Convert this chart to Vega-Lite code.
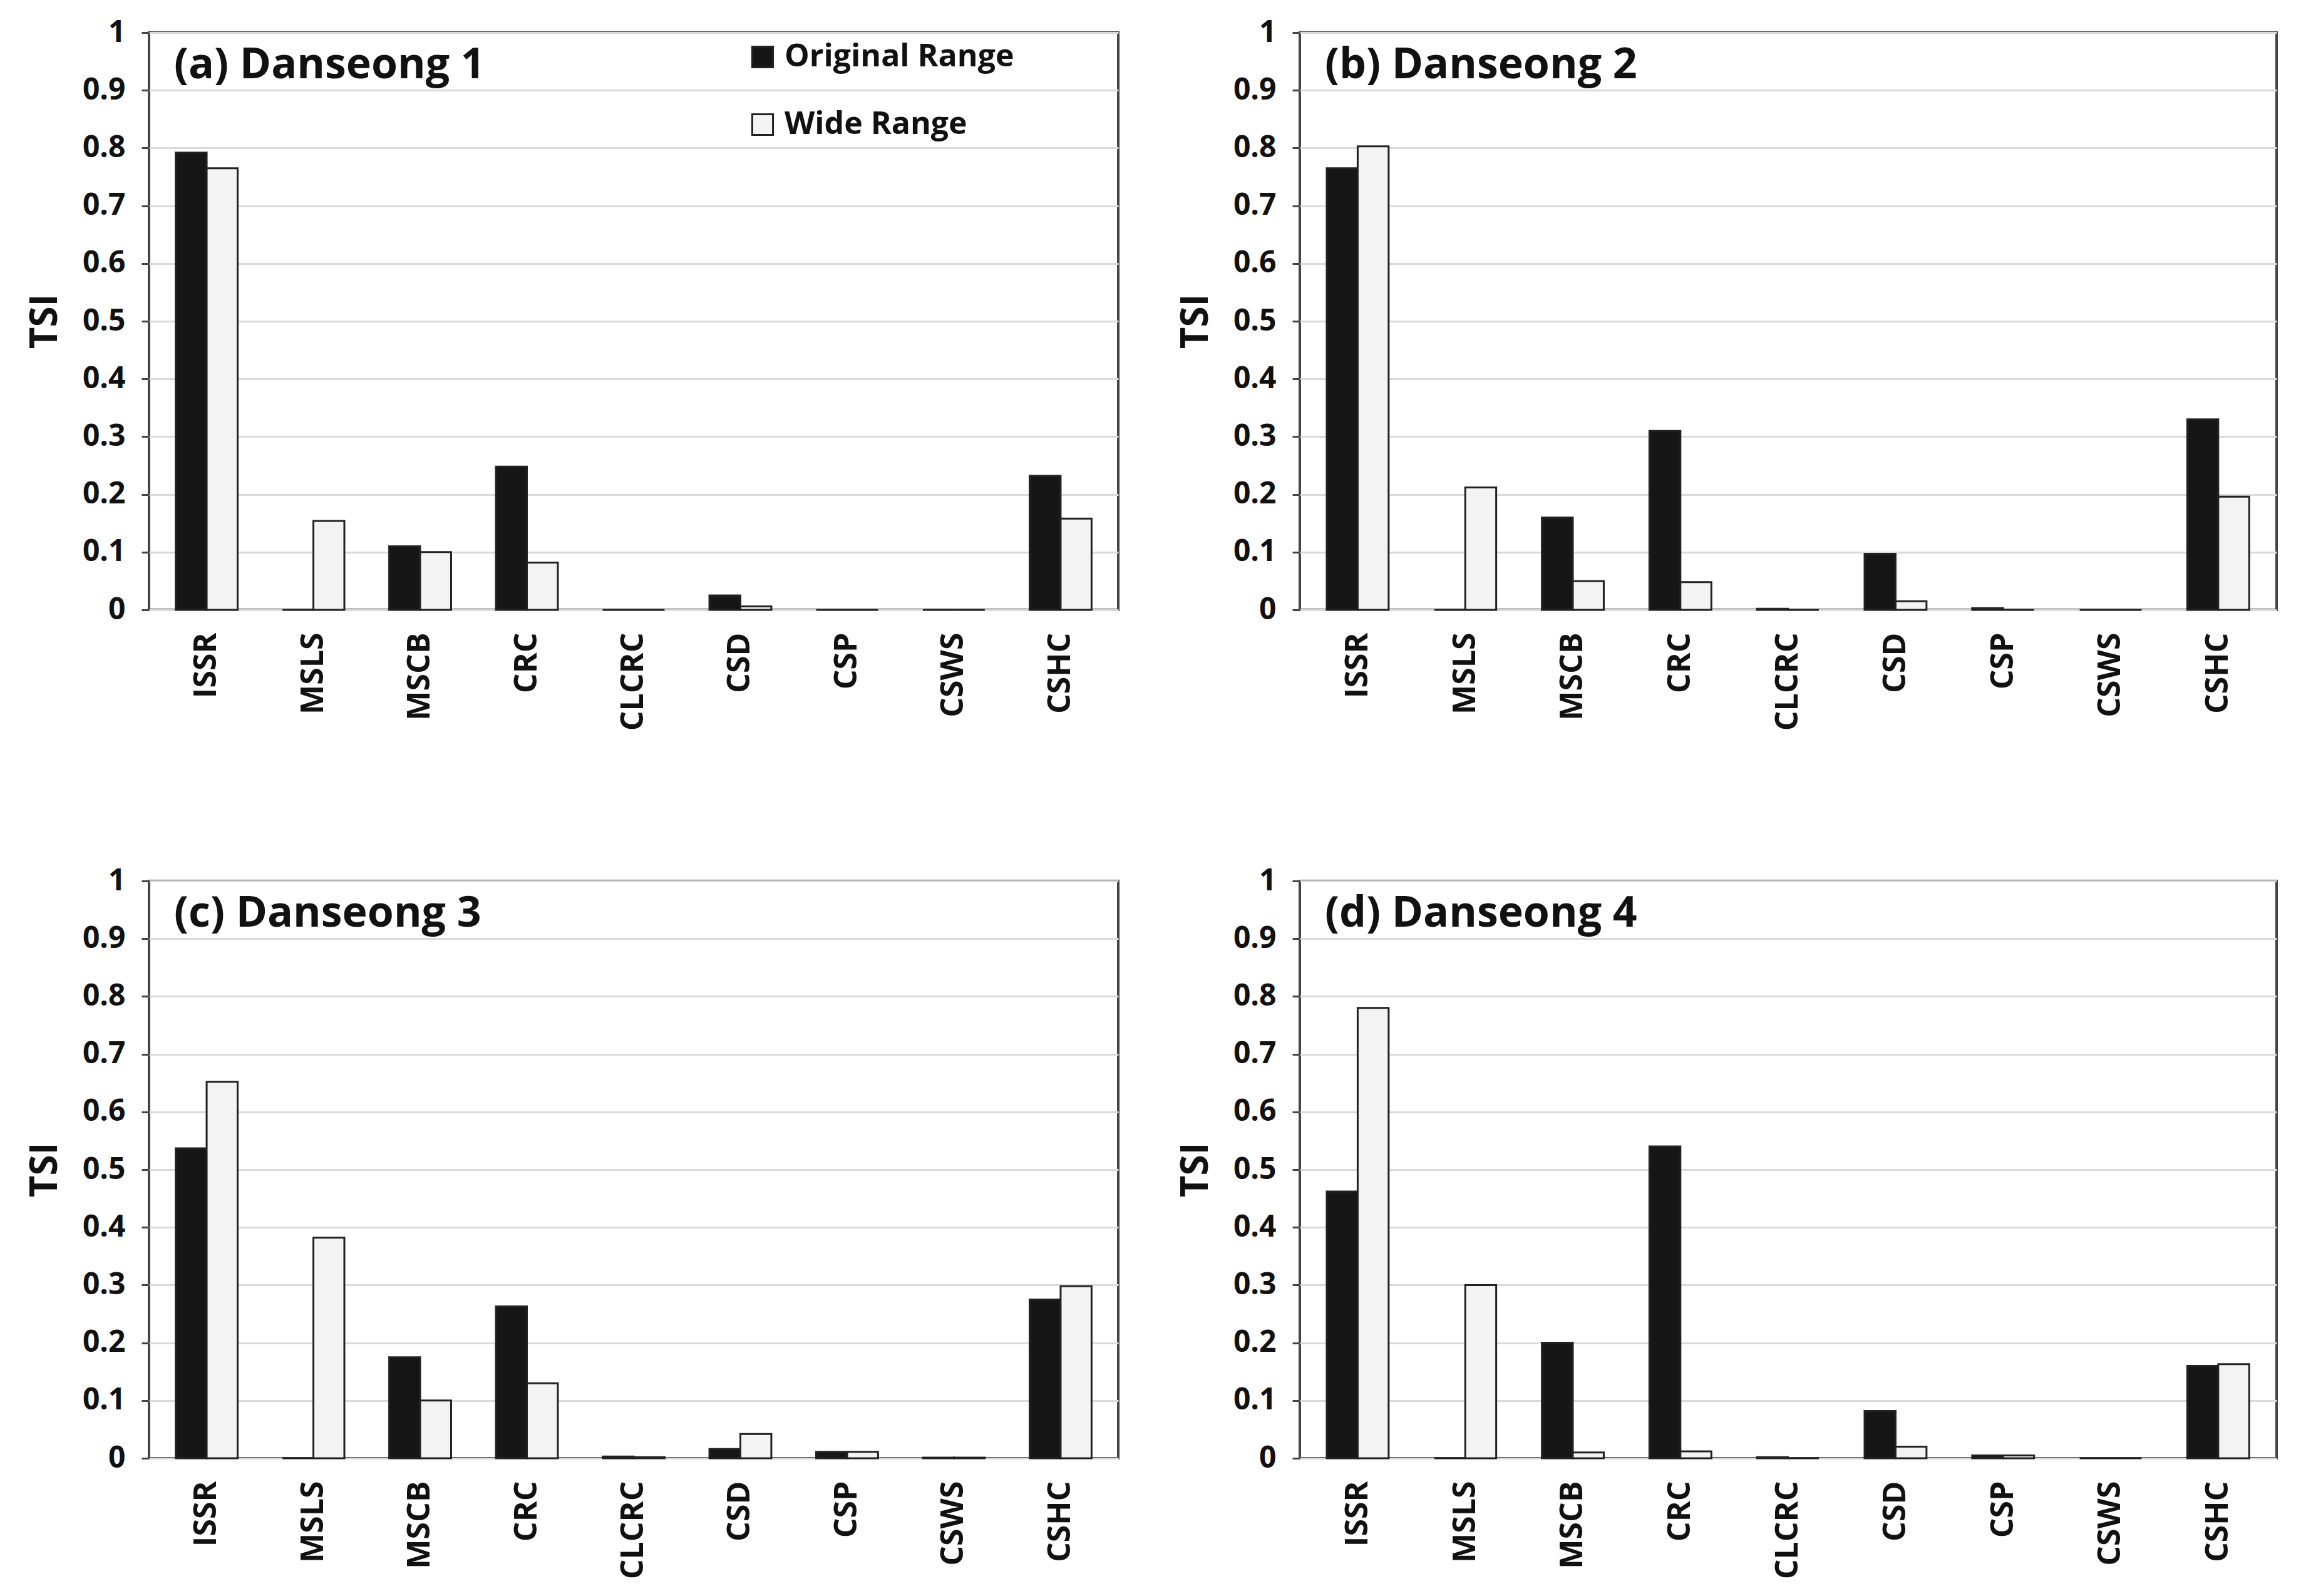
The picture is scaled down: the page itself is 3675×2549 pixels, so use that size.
{
  "$schema": "https://vega.github.io/schema/vega-lite/v6.json",
  "background": "white",
  "padding": {"left": 40, "top": 26, "right": 10, "bottom": 10},
  "config": {
    "font": "Open Sans",
    "view": {"stroke": "#444", "strokeWidth": 4},
    "axis": {
      "labelFont": "Open Sans",
      "labelFontWeight": "bold",
      "labelColor": "#111",
      "titleFont": "Open Sans",
      "titleColor": "#111",
      "titleFontWeight": "bold"
    },
    "title": {"font": "Open Sans", "color": "#111"}
  },
  "data": {
    "values": [
      {"panel": "a", "param": "ISSR", "range": "Original Range", "value": 0.792},
      {"panel": "a", "param": "ISSR", "range": "Wide Range", "value": 0.765},
      {"panel": "a", "param": "MSLS", "range": "Original Range", "value": 0},
      {"panel": "a", "param": "MSLS", "range": "Wide Range", "value": 0.154},
      {"panel": "a", "param": "MSCB", "range": "Original Range", "value": 0.11},
      {"panel": "a", "param": "MSCB", "range": "Wide Range", "value": 0.1},
      {"panel": "a", "param": "CRC", "range": "Original Range", "value": 0.248},
      {"panel": "a", "param": "CRC", "range": "Wide Range", "value": 0.082},
      {"panel": "a", "param": "CLCRC", "range": "Original Range", "value": 0},
      {"panel": "a", "param": "CLCRC", "range": "Wide Range", "value": 0},
      {"panel": "a", "param": "CSD", "range": "Original Range", "value": 0.025},
      {"panel": "a", "param": "CSD", "range": "Wide Range", "value": 0.006},
      {"panel": "a", "param": "CSP", "range": "Original Range", "value": 0},
      {"panel": "a", "param": "CSP", "range": "Wide Range", "value": 0},
      {"panel": "a", "param": "CSWS", "range": "Original Range", "value": 0},
      {"panel": "a", "param": "CSWS", "range": "Wide Range", "value": 0},
      {"panel": "a", "param": "CSHC", "range": "Original Range", "value": 0.232},
      {"panel": "a", "param": "CSHC", "range": "Wide Range", "value": 0.158},

      {"panel": "b", "param": "ISSR", "range": "Original Range", "value": 0.765},
      {"panel": "b", "param": "ISSR", "range": "Wide Range", "value": 0.803},
      {"panel": "b", "param": "MSLS", "range": "Original Range", "value": 0},
      {"panel": "b", "param": "MSLS", "range": "Wide Range", "value": 0.212},
      {"panel": "b", "param": "MSCB", "range": "Original Range", "value": 0.16},
      {"panel": "b", "param": "MSCB", "range": "Wide Range", "value": 0.05},
      {"panel": "b", "param": "CRC", "range": "Original Range", "value": 0.31},
      {"panel": "b", "param": "CRC", "range": "Wide Range", "value": 0.048},
      {"panel": "b", "param": "CLCRC", "range": "Original Range", "value": 0.002},
      {"panel": "b", "param": "CLCRC", "range": "Wide Range", "value": 0},
      {"panel": "b", "param": "CSD", "range": "Original Range", "value": 0.097},
      {"panel": "b", "param": "CSD", "range": "Wide Range", "value": 0.015},
      {"panel": "b", "param": "CSP", "range": "Original Range", "value": 0.003},
      {"panel": "b", "param": "CSP", "range": "Wide Range", "value": 0},
      {"panel": "b", "param": "CSWS", "range": "Original Range", "value": 0},
      {"panel": "b", "param": "CSWS", "range": "Wide Range", "value": 0},
      {"panel": "b", "param": "CSHC", "range": "Original Range", "value": 0.33},
      {"panel": "b", "param": "CSHC", "range": "Wide Range", "value": 0.196},

      {"panel": "c", "param": "ISSR", "range": "Original Range", "value": 0.537},
      {"panel": "c", "param": "ISSR", "range": "Wide Range", "value": 0.652},
      {"panel": "c", "param": "MSLS", "range": "Original Range", "value": 0},
      {"panel": "c", "param": "MSLS", "range": "Wide Range", "value": 0.382},
      {"panel": "c", "param": "MSCB", "range": "Original Range", "value": 0.175},
      {"panel": "c", "param": "MSCB", "range": "Wide Range", "value": 0.1},
      {"panel": "c", "param": "CRC", "range": "Original Range", "value": 0.263},
      {"panel": "c", "param": "CRC", "range": "Wide Range", "value": 0.13},
      {"panel": "c", "param": "CLCRC", "range": "Original Range", "value": 0.003},
      {"panel": "c", "param": "CLCRC", "range": "Wide Range", "value": 0.002},
      {"panel": "c", "param": "CSD", "range": "Original Range", "value": 0.016},
      {"panel": "c", "param": "CSD", "range": "Wide Range", "value": 0.042},
      {"panel": "c", "param": "CSP", "range": "Original Range", "value": 0.011},
      {"panel": "c", "param": "CSP", "range": "Wide Range", "value": 0.011},
      {"panel": "c", "param": "CSWS", "range": "Original Range", "value": 0.001},
      {"panel": "c", "param": "CSWS", "range": "Wide Range", "value": 0.001},
      {"panel": "c", "param": "CSHC", "range": "Original Range", "value": 0.275},
      {"panel": "c", "param": "CSHC", "range": "Wide Range", "value": 0.298},

      {"panel": "d", "param": "ISSR", "range": "Original Range", "value": 0.462},
      {"panel": "d", "param": "ISSR", "range": "Wide Range", "value": 0.78},
      {"panel": "d", "param": "MSLS", "range": "Original Range", "value": 0},
      {"panel": "d", "param": "MSLS", "range": "Wide Range", "value": 0.3},
      {"panel": "d", "param": "MSCB", "range": "Original Range", "value": 0.2},
      {"panel": "d", "param": "MSCB", "range": "Wide Range", "value": 0.01},
      {"panel": "d", "param": "CRC", "range": "Original Range", "value": 0.54},
      {"panel": "d", "param": "CRC", "range": "Wide Range", "value": 0.012},
      {"panel": "d", "param": "CLCRC", "range": "Original Range", "value": 0.002},
      {"panel": "d", "param": "CLCRC", "range": "Wide Range", "value": 0},
      {"panel": "d", "param": "CSD", "range": "Original Range", "value": 0.082},
      {"panel": "d", "param": "CSD", "range": "Wide Range", "value": 0.02},
      {"panel": "d", "param": "CSP", "range": "Original Range", "value": 0.005},
      {"panel": "d", "param": "CSP", "range": "Wide Range", "value": 0.005},
      {"panel": "d", "param": "CSWS", "range": "Original Range", "value": 0},
      {"panel": "d", "param": "CSWS", "range": "Wide Range", "value": 0},
      {"panel": "d", "param": "CSHC", "range": "Original Range", "value": 0.16},
      {"panel": "d", "param": "CSHC", "range": "Wide Range", "value": 0.163}
    ]
  },
  "columns": 2,
  "spacing": {"row": 212, "column": 90},
  "resolve": {"legend": {"color": "independent"}},
  "concat": [
    {
      "title": {"text": "(a) Danseong 1", "anchor": "start", "frame": "group", "offset": -165, "dx": 40, "baseline": "alphabetic", "fontSize": 68, "fontWeight": "bold"},
      "width": 1548,
      "height": 922,
      "transform": [{"filter": "datum.panel == 'a'"}],
      "mark": {"type": "bar", "stroke": "#222", "strokeWidth": 3},
      "encoding": {
        "x": {"field": "param", "type": "nominal", "sort": ["ISSR", "MSLS", "MSCB", "CRC", "CLCRC", "CSD", "CSP", "CSWS", "CSHC"], "scale": {"paddingInner": 0.42, "paddingOuter": 0.25}, "axis": {"title": null, "labelAngle": -90, "labelFontSize": 50, "labelPadding": 36, "ticks": false, "domain": false}},
        "xOffset": {"field": "range", "type": "nominal", "sort": ["Original Range", "Wide Range"]},
        "y": {"field": "value", "type": "quantitative", "scale": {"domain": [0, 1]}, "axis": {"title": "TSI", "titleFontSize": 60, "titlePadding": 28, "values": [0, 0.1, 0.2, 0.3, 0.4, 0.5, 0.6, 0.7, 0.8, 0.9, 1], "format": ".1~f", "labelFontSize": 48, "labelPadding": 26, "tickSize": 12, "tickWidth": 3, "tickColor": "#444", "domain": false, "gridColor": "#dadada", "gridWidth": 3}},
        "color": {"field": "range", "type": "nominal", "scale": {"domain": ["Original Range", "Wide Range"], "range": ["#161616", "#f3f3f3"]}, "legend": {"orient": "none", "legendX": 955, "legendY": 14, "title": null, "symbolType": "square", "symbolSize": 1100, "symbolStrokeColor": "#222", "symbolStrokeWidth": 3, "labelFontSize": 50, "labelFontWeight": "bold", "labelFont": "Open Sans", "labelColor": "#111", "labelLimit": 0, "labelOffset": 10, "rowPadding": 58}}
      }
    },
    {
      "title": {"text": "(b) Danseong 2", "anchor": "start", "frame": "group", "offset": -165, "dx": 40, "baseline": "alphabetic", "fontSize": 68, "fontWeight": "bold"},
      "width": 1560,
      "height": 922,
      "transform": [{"filter": "datum.panel == 'b'"}],
      "mark": {"type": "bar", "stroke": "#222", "strokeWidth": 3},
      "encoding": {
        "x": {"field": "param", "type": "nominal", "sort": ["ISSR", "MSLS", "MSCB", "CRC", "CLCRC", "CSD", "CSP", "CSWS", "CSHC"], "scale": {"paddingInner": 0.42, "paddingOuter": 0.25}, "axis": {"title": null, "labelAngle": -90, "labelFontSize": 50, "labelPadding": 36, "ticks": false, "domain": false}},
        "xOffset": {"field": "range", "type": "nominal", "sort": ["Original Range", "Wide Range"]},
        "y": {"field": "value", "type": "quantitative", "scale": {"domain": [0, 1]}, "axis": {"title": "TSI", "titleFontSize": 60, "titlePadding": 28, "values": [0, 0.1, 0.2, 0.3, 0.4, 0.5, 0.6, 0.7, 0.8, 0.9, 1], "format": ".1~f", "labelFontSize": 48, "labelPadding": 26, "tickSize": 12, "tickWidth": 3, "tickColor": "#444", "domain": false, "gridColor": "#dadada", "gridWidth": 3}},
        "color": {"field": "range", "type": "nominal", "scale": {"domain": ["Original Range", "Wide Range"], "range": ["#161616", "#f3f3f3"]}, "legend": null}
      }
    },
    {
      "title": {"text": "(c) Danseong 3", "anchor": "start", "frame": "group", "offset": -165, "dx": 40, "baseline": "alphabetic", "fontSize": 68, "fontWeight": "bold"},
      "width": 1548,
      "height": 922,
      "transform": [{"filter": "datum.panel == 'c'"}],
      "mark": {"type": "bar", "stroke": "#222", "strokeWidth": 3},
      "encoding": {
        "x": {"field": "param", "type": "nominal", "sort": ["ISSR", "MSLS", "MSCB", "CRC", "CLCRC", "CSD", "CSP", "CSWS", "CSHC"], "scale": {"paddingInner": 0.42, "paddingOuter": 0.25}, "axis": {"title": null, "labelAngle": -90, "labelFontSize": 50, "labelPadding": 36, "ticks": false, "domain": false}},
        "xOffset": {"field": "range", "type": "nominal", "sort": ["Original Range", "Wide Range"]},
        "y": {"field": "value", "type": "quantitative", "scale": {"domain": [0, 1]}, "axis": {"title": "TSI", "titleFontSize": 60, "titlePadding": 28, "values": [0, 0.1, 0.2, 0.3, 0.4, 0.5, 0.6, 0.7, 0.8, 0.9, 1], "format": ".1~f", "labelFontSize": 48, "labelPadding": 26, "tickSize": 12, "tickWidth": 3, "tickColor": "#444", "domain": false, "gridColor": "#dadada", "gridWidth": 3}},
        "color": {"field": "range", "type": "nominal", "scale": {"domain": ["Original Range", "Wide Range"], "range": ["#161616", "#f3f3f3"]}, "legend": null}
      }
    },
    {
      "title": {"text": "(d) Danseong 4", "anchor": "start", "frame": "group", "offset": -165, "dx": 40, "baseline": "alphabetic", "fontSize": 68, "fontWeight": "bold"},
      "width": 1560,
      "height": 922,
      "transform": [{"filter": "datum.panel == 'd'"}],
      "mark": {"type": "bar", "stroke": "#222", "strokeWidth": 3},
      "encoding": {
        "x": {"field": "param", "type": "nominal", "sort": ["ISSR", "MSLS", "MSCB", "CRC", "CLCRC", "CSD", "CSP", "CSWS", "CSHC"], "scale": {"paddingInner": 0.42, "paddingOuter": 0.25}, "axis": {"title": null, "labelAngle": -90, "labelFontSize": 50, "labelPadding": 36, "ticks": false, "domain": false}},
        "xOffset": {"field": "range", "type": "nominal", "sort": ["Original Range", "Wide Range"]},
        "y": {"field": "value", "type": "quantitative", "scale": {"domain": [0, 1]}, "axis": {"title": "TSI", "titleFontSize": 60, "titlePadding": 28, "values": [0, 0.1, 0.2, 0.3, 0.4, 0.5, 0.6, 0.7, 0.8, 0.9, 1], "format": ".1~f", "labelFontSize": 48, "labelPadding": 26, "tickSize": 12, "tickWidth": 3, "tickColor": "#444", "domain": false, "gridColor": "#dadada", "gridWidth": 3}},
        "color": {"field": "range", "type": "nominal", "scale": {"domain": ["Original Range", "Wide Range"], "range": ["#161616", "#f3f3f3"]}, "legend": null}
      }
    }
  ]
}
